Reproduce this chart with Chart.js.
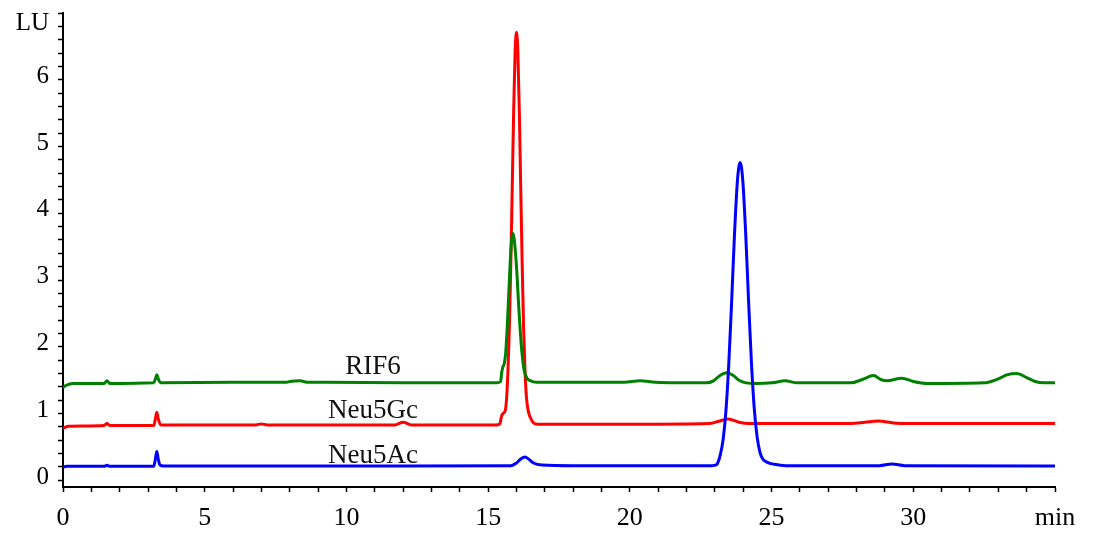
<!DOCTYPE html>
<html>
<head>
<meta charset="utf-8">
<title>HPLC chromatogram – sialic acids</title>
<script src="https://cdn.jsdelivr.net/npm/chart.js@4.4.1/dist/chart.umd.min.js"></script>
<style>
  html, body { margin: 0; padding: 0; background: #ffffff; }
  #wrap { position: relative; width: 1097px; height: 538px; }
</style>
</head>
<body>
<div id="wrap"><canvas id="chrom"></canvas></div>
<script>
/* ── DATA (retention time in min, fluorescence in LU) ───────── */
const neu5AcTime = [0, 0.15, 1.45, 1.55, 1.65, 3.2, 3.26, 3.31, 3.36, 3.42, 3.55, 8, 12, 15.8, 16.0, 16.15, 16.3, 16.45, 16.6, 16.9, 18, 22.9,
  23.05, 23.12, 23.19, 23.29, 23.39, 23.49, 23.59, 23.69, 23.79, 23.84, 23.89, 23.94, 23.99, 24.09, 24.19, 24.29, 24.39, 24.49, 24.59, 24.69,
  24.85, 25.1, 25.5, 28.8, 29.25, 29.7, 35];
const neu5AcLU = [0.00, 0.01, 0.01, 0.025, 0.01, 0.01, 0.12, 0.23, 0.12, 0.03, 0.015, 0.015, 0.015, 0.02, 0.06, 0.12, 0.15, 0.11, 0.06, 0.03, 0.02, 0.02,
  0.03, 0.08, 0.18, 0.41, 0.84, 1.54, 2.47, 3.47, 4.26, 4.48, 4.56, 4.48, 4.26, 3.47, 2.47, 1.56, 0.87, 0.45, 0.22, 0.12,
  0.07, 0.04, 0.02, 0.02, 0.045, 0.02, 0.015];

const neu5GcTime = [0, 0.2, 1.45, 1.55, 1.65, 3.2, 3.26, 3.31, 3.36, 3.45, 6.8, 7.0, 7.2, 11.7, 12.0, 12.3, 14.5, 15.3,
  15.42, 15.46, 15.52, 15.6, 15.65, 15.7, 15.75, 15.8, 15.85, 15.9, 15.95, 16.0, 16.05, 16.1, 16.15, 16.2, 16.25, 16.3, 16.35, 16.42, 16.5, 16.6, 16.75,
  20, 22.8, 23.1, 23.47, 23.85, 24.2, 27.8, 28.3, 28.76, 29.3, 29.8, 35];
const neu5GcLU = [0.58, 0.61, 0.62, 0.65, 0.62, 0.62, 0.72, 0.82, 0.72, 0.63, 0.63, 0.645, 0.63, 0.63, 0.67, 0.63, 0.63, 0.63,
  0.65, 0.74, 0.80, 0.84, 1.02, 1.45, 2.10, 3.05, 4.18, 5.33, 6.20, 6.51, 6.20, 5.33, 4.18, 3.05, 2.10, 1.45, 1.05, 0.83, 0.73, 0.66, 0.64,
  0.64, 0.65, 0.68, 0.72, 0.67, 0.65, 0.65, 0.67, 0.69, 0.66, 0.65, 0.65];

const rif6Time = [0, 0.1, 0.35, 1.45, 1.55, 1.65, 3.2, 3.26, 3.31, 3.37, 3.45, 6.0, 7.9, 8.0, 8.37, 8.6, 9.25, 12, 15.3,
  15.44, 15.48, 15.52, 15.57, 15.62, 15.67, 15.72, 15.77, 15.82, 15.87, 15.92, 15.97, 16.02, 16.07, 16.12, 16.17, 16.22, 16.27, 16.37, 16.5, 16.7,
  19.8, 20.36, 20.9, 22.7, 22.95, 23.15, 23.42, 23.65, 23.85, 24.1, 24.5, 25.0, 25.48, 25.9, 27.8, 28.2, 28.6, 28.85, 29.06, 29.6, 30.0, 30.5,
  32.5, 33.0, 33.3, 33.65, 34.0, 34.3, 34.6, 35];
const rif6LU = [1.19, 1.22, 1.25, 1.25, 1.29, 1.25, 1.26, 1.32, 1.38, 1.31, 1.26, 1.27, 1.27, 1.28, 1.29, 1.27, 1.27, 1.26, 1.26,
  1.28, 1.42, 1.50, 1.55, 1.71, 2.07, 2.52, 2.99, 3.36, 3.50, 3.41, 3.18, 2.87, 2.47, 2.12, 1.82, 1.60, 1.45, 1.33, 1.29, 1.27,
  1.27, 1.29, 1.27, 1.26, 1.29, 1.36, 1.41, 1.37, 1.30, 1.26, 1.25, 1.26, 1.29, 1.26, 1.26, 1.31, 1.37, 1.31, 1.29, 1.33, 1.28, 1.25,
  1.26, 1.32, 1.38, 1.40, 1.34, 1.28, 1.26, 1.26];

/* trace names, colours and where their labels sit (data coords) */
const traceNames  = ['Neu5Ac', 'RIF6', 'Neu5Gc'];
const traceColors = ['#0000ff', '#008000', '#ff0000'];
const labelTexts  = ['RIF6', 'Neu5Gc', 'Neu5Ac'];
const labelX      = [10.94, 10.94, 10.94];
const labelY      = [1.50, 0.84, 0.165];

/* ── HELPERS ────────────────────────────────────────────────── */
function toPoints(xs, ys) {
  return xs.map((x, i) => ({ x, y: ys[i] }));
}

/* y ticks every 0.2 LU from -0.2 up to the "LU" mark at 6.8 */
const yTickValues = [];
for (let k = -1; k <= 34; k++) yTickValues.push(Math.round(k * 20) / 100);

const serif = "'Liberation Serif', 'DejaVu Serif', serif";

/* draws the trace names inside the plot */
const traceLabels = {
  id: 'traceLabels',
  afterDatasetsDraw(chart) {
    const { ctx, scales: { x, y } } = chart;
    ctx.save();
    ctx.font = `27px ${serif}`;
    ctx.fillStyle = '#111';
    ctx.textAlign = 'center';
    ctx.textBaseline = 'middle';
    labelTexts.forEach((t, i) => {
      ctx.fillText(t, x.getPixelForValue(labelX[i]), y.getPixelForValue(labelY[i]));
    });
    ctx.restore();
  },
};

/* ── CHART ──────────────────────────────────────────────────── */
const series = [toPoints(neu5AcTime, neu5AcLU), toPoints(rif6Time, rif6LU), toPoints(neu5GcTime, neu5GcLU)];

new Chart(document.getElementById('chrom'), {
  type: 'line',
  data: {
    datasets: series.map((pts, i) => ({
      label: traceNames[i],
      data: pts,
      borderColor: traceColors[i],
      borderWidth: 3,
      pointRadius: 0,
      cubicInterpolationMode: 'monotone',
      fill: false,
    })),
  },
  options: {
    responsive: true,
    maintainAspectRatio: false,
    animation: false,
    layout: { padding: { top: 13, right: 42, left: 0, bottom: 0 } },
    plugins: { legend: { display: false }, tooltip: { enabled: false } },
    scales: {
      x: {
        type: 'linear',
        min: 0,
        max: 35,
        afterFit: s => { s.height = 51; s.paddingLeft = 0; },
        border: { color: '#000', width: 2 },
        grid: { drawOnChartArea: false, drawTicks: true, tickLength: 5, tickColor: '#000', tickWidth: 1.5 },
        ticks: {
          stepSize: 1,
          autoSkip: false,
          maxRotation: 0,
          padding: 11,
          color: '#000',
          font: { family: serif, size: 26 },
          callback: v => (v === 35 ? 'min' : (v % 5 === 0 ? String(v) : '')),
        },
      },
      y: {
        min: -0.3,
        max: 6.8,
        /* labels hang below their ticks, so no extra room is needed at the top */
        afterFit: s => { s.width = 63; s.paddingTop = 0; s.paddingBottom = 0; },
        afterBuildTicks: s => { s.ticks = yTickValues.map(v => ({ value: v })); },
        border: { color: '#000', width: 2 },
        grid: { drawOnChartArea: false, drawTicks: true, tickLength: 5, tickColor: '#000', tickWidth: 1.5 },
        ticks: {
          autoSkip: false,
          padding: 9,
          labelOffset: 10,
          color: '#000',
          font: { family: serif, size: 25 },
          callback: v => {
            if (Math.abs(v - 6.8) < 1e-6) return 'LU';
            return Math.abs(v - Math.round(v)) < 1e-6 ? String(Math.round(v)) : '';
          },
        },
      },
    },
  },
  plugins: [traceLabels],
});
</script>
</body>
</html>
